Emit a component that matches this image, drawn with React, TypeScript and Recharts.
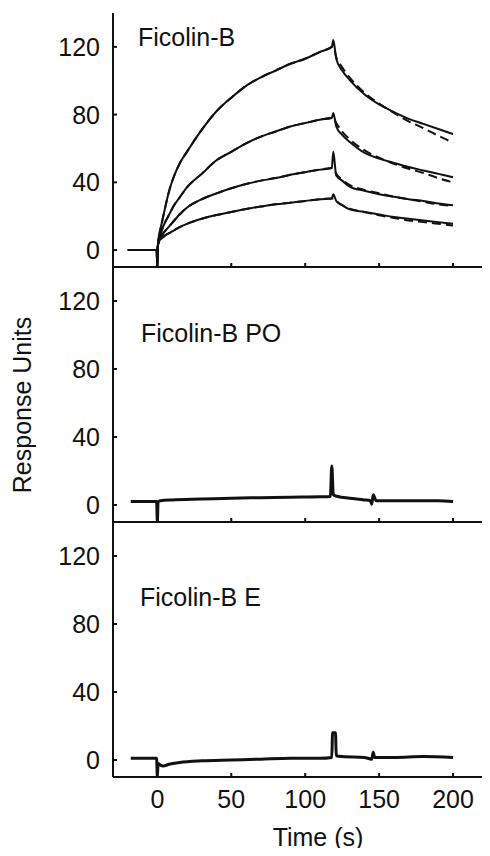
import React from "react";
import { LineChart, Line, XAxis, YAxis } from "recharts";

// Ficolin-B binding (top panel)
const bindTime = [-20, -10, -0.5, 0, 0.5, 1, 3, 5, 8, 11, 15, 20, 30, 40, 50, 60, 70, 80, 90, 100, 110, 118, 119, 121, 125, 130, 140, 150, 160, 170, 180, 190, 200];
const curve1 = [0, 0, 0, -10, 5, 8, 16, 24, 35, 43, 51, 58, 71, 82, 90, 97, 102, 106, 110, 113, 117, 120, 124, 113, 106, 100.5, 92, 86, 81.5, 77.5, 74.5, 71.5, 68.5];
const curve2 = [0, 0, 0, -10, 4, 7, 12, 16, 21, 26, 31, 37, 45, 53, 58, 63, 67, 70, 73, 75, 77, 78, 81, 73, 68, 64, 57.5, 54, 51.5, 49, 47, 45, 43];
const curve3 = [0, 0, 0, -10, 4, 6, 9, 11, 14, 17, 21, 25, 30, 33.5, 36.5, 39, 41, 42.5, 44.5, 46, 47.5, 48.5, 58, 44, 41, 37.5, 35, 33, 31.5, 30, 29, 27.5, 26.5];
const curve4 = [0, 0, 0, -10, 3.5, 5, 7, 8.5, 10, 11.5, 13.5, 15.5, 18.5, 20.7, 22.5, 24.3, 25.7, 27, 28, 29, 30, 30.5, 33, 29, 26.5, 24, 22.5, 21, 19.5, 18.5, 17.5, 16.5, 15.5];
const fit1 = [null, null, null, 0, 4, 7, 16, 24, 35, 43, 51, 58, 71, 82, 90, 97, 102, 106, 110, 113, 117, 120, 120.5, 114, 108, 102, 93, 86.5, 81, 76, 72, 67.5, 63.5];
const fit2 = [null, null, null, 0, 3.5, 6, 11.5, 16, 21, 26, 31, 37, 45, 53, 58, 63, 67, 70, 73, 75, 77, 78, 78, 75, 70, 65.5, 59, 54.5, 51, 48, 45.5, 42.5, 40];
const fit3 = [null, null, null, 0, 3.5, 5.5, 8.5, 11, 14, 17, 21, 25, 30, 33.5, 36.5, 39, 41, 42.5, 44.5, 46, 47.5, 48.5, 48.5, 45, 41.5, 38.5, 35.5, 33.5, 31.5, 30, 28.5, 27, 26];
const fit4 = [null, null, null, 0, 3, 4.5, 6.5, 8.5, 10, 11.5, 13.5, 15.5, 18.5, 20.7, 22.5, 24.3, 25.7, 27, 28, 29, 30, 30.5, 30.5, 29, 26.5, 24.5, 22.5, 20.5, 19, 17.5, 16.5, 15.5, 14.5];

// Ficolin-B PO (middle panel)
const poTime = [-18, -10, -0.5, 0, 0.5, 2, 10, 30, 50, 70, 90, 110, 117, 118, 119, 122, 130, 140, 144, 145, 146, 148, 150, 160, 170, 180, 190, 200];
const poResp = [2, 2, 2, -10, 2, 2.5, 3, 3.5, 4, 4.3, 4.6, 4.8, 5, 23, 6, 5, 4, 3, 2.5, 0.5, 6, 2.5, 2.5, 2.5, 2.5, 2.5, 2.5, 2];

// Ficolin-B E (bottom panel)
const eTime = [-18, -10, -0.5, 0, 0.5, 2, 4, 8, 15, 30, 50, 70, 90, 110, 118, 118.5, 120.5, 121, 125, 140, 145, 146, 147, 148, 160, 180, 200];
const eResp = [1, 1, 1, -10, -2, -3, -3.5, -2.5, -1.5, -0.5, 0, 0.5, 1, 1, 1.5, 16, 16, 2.5, 2, 1.5, 0.5, 4.5, 1.5, 1.5, 1.5, 2, 1.5];

const xTicks = [0, 50, 100, 150, 200];
const yTicks = [0, 40, 80, 120];

const FONT = '"Liberation Sans", Arial, sans-serif';
const INK = "#111";

const toRows = (time: number[], series: Record<string, (number | null)[]>) =>
  time.map((t, i) => {
    const row: Record<string, number | null> = { t };
    Object.keys(series).forEach((k) => (row[k] = series[k][i]));
    return row;
  });

const bindRows = toRows(bindTime, { curve1, curve2, curve3, curve4, fit1, fit2, fit3, fit4 });
const poRows = toRows(poTime, { resp: poResp });
const eRows = toRows(eTime, { resp: eResp });

const axisStyle = { stroke: INK, strokeWidth: 2 };

// ticks point inward, so draw the tick mark together with its label
const renderXTick = (p: any, showLabel: boolean) => (
  <g>
    <line x1={p.x} x2={p.x} y1={p.y} y2={p.y - 4} stroke={INK} strokeWidth={2} />
    {showLabel && (
      <text x={p.x} y={p.y + 13} dy="0.71em" textAnchor="middle" fill={INK} fontSize={25} fontFamily={FONT}>
        {p.payload.value}
      </text>
    )}
  </g>
);

const renderYTick = (p: any) => (
  <g>
    <line x1={p.x} x2={p.x + 4} y1={p.y} y2={p.y} stroke={INK} strokeWidth={2} />
    <text x={p.x - 13} y={p.y} dy="0.36em" textAnchor="end" fill={INK} fontSize={25} fontFamily={FONT}>
      {p.payload.value}
    </text>
  </g>
);

const timeTitle = () => (
  <text x={318} y={327} textAnchor="middle" fill={INK} fontSize={25} fontFamily={FONT}>
    Time (s)
  </text>
);

const yTitle = () => (
  <text x={31} y={141} transform="rotate(-90 31 141)" textAnchor="middle" fill={INK} fontSize={25} fontFamily={FONT}>
    Response Units
  </text>
);

const xAxis = (showLabels: boolean, height: number) => (
  <XAxis
    dataKey="t"
    type="number"
    domain={[-30, 225]}
    ticks={xTicks}
    allowDataOverflow
    height={height}
    axisLine={axisStyle}
    tickLine={false}
    tickSize={0}
    tickMargin={0}
    tick={(p: any) => renderXTick(p, showLabels)}
    label={showLabels ? timeTitle : undefined}
  />
);

const yAxis = (label?: any) => (
  <YAxis
    type="number"
    domain={[-10, 140]}
    ticks={yTicks}
    allowDataOverflow
    width={113}
    axisLine={axisStyle}
    tickLine={false}
    tickSize={0}
    tickMargin={0}
    tick={renderYTick}
    label={label}
  />
);

const panelLabel = (text: string, left: number, top: number) => (
  <div style={{ position: "absolute", left, top, fontSize: 25, lineHeight: "25px", color: INK, whiteSpace: "nowrap" }}>{text}</div>
);

export default function App() {
  const solid = ["curve1", "curve2", "curve3", "curve4"];
  const fits = ["fit1", "fit2", "fit3", "fit4"];
  return (
    <div style={{ position: "relative", width: 490, height: 856, margin: -8, fontFamily: FONT, background: "#fff" }}>
      <div style={{ position: "absolute", left: 0, top: 0 }}>
        <LineChart width={490} height={270} data={bindRows} margin={{ top: 13, right: 0, bottom: 2, left: 0 }}>
          {xAxis(false, 1)}
          {yAxis()}
          {fits.map((k) => (
            <Line key={k} dataKey={k} type="monotone" stroke={INK} strokeWidth={2} strokeDasharray="9 5" dot={false} isAnimationActive={false} />
          ))}
          {solid.map((k) => (
            <Line key={k} dataKey={k} type="monotone" stroke={INK} strokeWidth={2} dot={false} isAnimationActive={false} />
          ))}
        </LineChart>
      </div>
      <div style={{ position: "absolute", left: 0, top: 264 }}>
        <LineChart width={490} height={261} data={poRows} margin={{ top: 3, right: 0, bottom: 2, left: 0 }}>
          {xAxis(false, 1)}
          {yAxis(yTitle)}
          <Line dataKey="resp" type="monotone" stroke={INK} strokeWidth={3} dot={false} isAnimationActive={false} />
        </LineChart>
      </div>
      <div style={{ position: "absolute", left: 0, top: 519 }}>
        <LineChart width={490} height={337} data={eRows} margin={{ top: 3, right: 0, bottom: 0, left: 0 }}>
          {xAxis(true, 79)}
          {yAxis()}
          <Line dataKey="resp" type="monotone" stroke={INK} strokeWidth={3} dot={false} isAnimationActive={false} />
        </LineChart>
      </div>
      {panelLabel("Ficolin-B", 138, 25)}
      {panelLabel("Ficolin-B PO", 141, 321)}
      {panelLabel("Ficolin-B E", 140, 585)}
    </div>
  );
}
